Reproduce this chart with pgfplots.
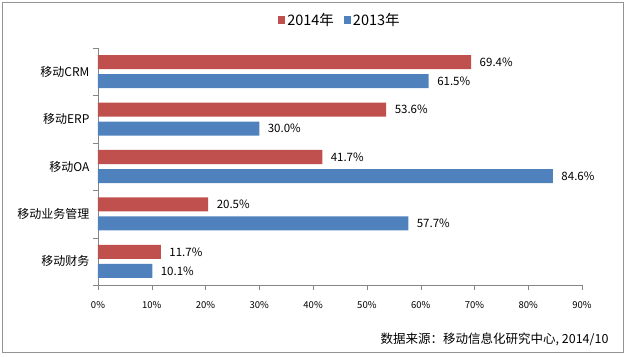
\documentclass[border=0pt]{standalone}
\usepackage{fontspec}
\setmainfont{Noto Sans CJK SC}
\usepackage{pgfplots}
\pgfplotsset{compat=1.18}
\definecolor{cred}{HTML}{C0504D}
\definecolor{cblue}{HTML}{4F81BD}
\definecolor{axgray}{HTML}{868686}
\begin{document}
\begin{tikzpicture}
\useasboundingbox (-98pt,-71pt) rectangle (533pt,285pt);
\draw[gray!85, line width=1pt] (-95pt,-67pt) rectangle (525pt,282pt);
\begin{axis}[at={(0pt,0pt)}, anchor=south west, scale only axis,
  width=484pt, height=237pt,
  xmin=0, xmax=90, ymin=-0.5, ymax=4.5,
  xbar, bar width=14pt,
  axis x line*=bottom, axis y line*=left,
  axis line style={axgray,-},
  /pgf/number format/assume math mode=true,
  xtick={0,10,...,90},
  xticklabel={\pgfmathprintnumber{\tick}\%},
  xticklabel style={font=\fontsize{9.5}{11}\selectfont, yshift=-8pt},
  ytick={0,...,4},
  yticklabels={移动财务,移动业务管理,移动OA,移动ERP,移动CRM},
  yticklabel style={font=\fontsize{12}{14}\selectfont},
  minor ytick={-0.5,0.5,...,4.5},
  major x tick style={axgray},
  minor y tick style={axgray},
  tick align=outside,
  major tick length=5pt, minor tick length=5pt,
  major y tick style={draw=none},
  nodes near coords={\pgfmathprintnumber[fixed,precision=1,fixed zerofill]{\pgfplotspointmeta}\%},
  nodes near coords style={anchor=west, font=\fontsize{11.5}{13}\selectfont, xshift=5pt, black},
  legend style={at={(0.5,1.118)}, anchor=center, draw=none, legend columns=2,
    /tikz/every even column/.append style={column sep=8pt},
    font=\fontsize{14.5}{16}\selectfont, inner sep=1pt},
  legend image code/.code={\fill[#1] (0pt,-4pt) rectangle (7pt,4pt);},
]
\addplot[fill=cred, draw=none, bar shift=9.5pt] coordinates {(69.4,4) (53.6,3) (41.7,2) (20.5,1) (11.7,0)};
\addplot[fill=cblue, draw=none, bar shift=-9.5pt] coordinates {(61.5,4) (30.0,3) (84.6,2) (57.7,1) (10.1,0)};
\legend{2014年,2013年}
\end{axis}
\node[anchor=base east, font=\fontsize{12.5}{14}\selectfont] at (514pt,-58pt) {数据来源：移动信息化研究中心, 2014/10};
\end{tikzpicture}
\end{document}
